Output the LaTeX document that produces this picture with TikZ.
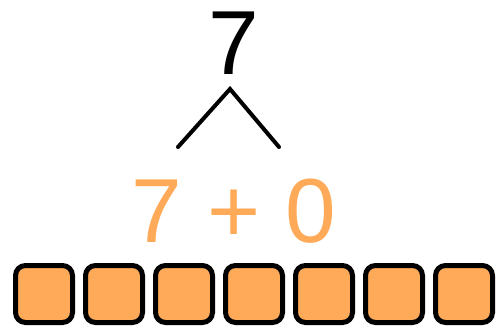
\documentclass[tikz,border=0pt]{standalone}
\usepackage{fontspec}
\setmainfont{Liberation Sans}
\definecolor{boxorange}{HTML}{FFAA58}

\begin{document}
\begin{tikzpicture}[x=1pt, y=-1pt, font=\fontsize{91}{91}\selectfont,
  cell/.style={draw=black, line width=5pt, fill=boxorange, rounded corners=10pt}]
\useasboundingbox (0,0) rectangle (499,329);
% Nombre
\node[anchor=base, inner sep=0pt] (total) at (234,75) {7};
\coordinate (apex) at (230,89);
\coordinate (left) at (178,147);
\coordinate (right) at (279,147);
\draw[line width=4pt, line cap=round] (left) -- (apex) -- (right);
% Decomposition
\node[anchor=base, inner sep=0pt, text=boxorange] (sum) at (234,243) {7 + 0};
% Cases
\foreach \i in {0,...,6} {
  \draw[cell] (15.5+70*\i,265.5) rectangle ++(57,57);
}
\end{tikzpicture}
\end{document}
